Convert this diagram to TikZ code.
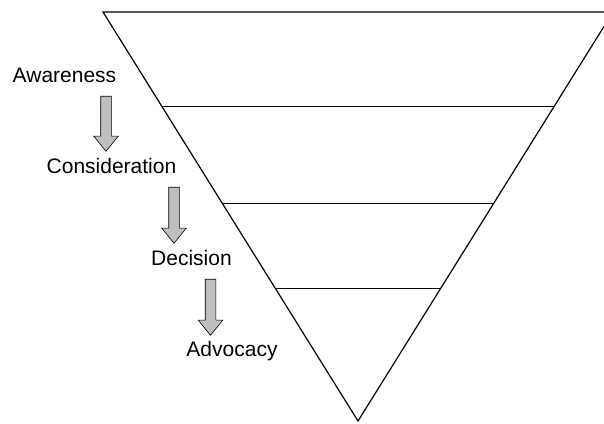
\documentclass[tikz,border=0pt]{standalone}
\usepackage{fontspec}
\setmainfont{Liberation Sans}
\usetikzlibrary{shapes.arrows, calc}

\begin{document}
\begin{tikzpicture}[x=1pt, y=-1pt,
        lbl/.style={anchor=base, font=\fontsize{21}{24}\selectfont, inner sep=0pt},
        dn/.style={single arrow, draw=black, line width=.6pt, fill=black!25,
          shape border rotate=270, inner sep=5pt, minimum height=55pt,
          single arrow head extend=7pt, single arrow tip angle=78}]
      \useasboundingbox (0,0) rectangle (604,423);
      \clip (0,0) rectangle (604,423);

      % funnel
      \coordinate (tl) at (103,12);
      \coordinate (tr) at (613,12);
      \coordinate (bt) at (358,421);
      \draw[line width=1.2pt, line join=miter] (tl) -- (tr) -- (bt) -- cycle;
      \draw[line width=.9pt] ($(tl)!.2298!(bt)$) -- ($(tr)!.2298!(bt)$);
      \draw[line width=.9pt] ($(tl)!.467!(bt)$) -- ($(tr)!.467!(bt)$);
      \draw[line width=.9pt] ($(tl)!.677!(bt)$) -- ($(tr)!.677!(bt)$);

      % stages
      \node[lbl] (aw) at (64.5,82) {Awareness};
      \node[lbl] (co) at (111.5,173) {Consideration};
      \node[lbl] (de) at (191.5,265) {Decision};
      \node[lbl] (ad) at (232,356) {Advocacy};

      \node[dn] (a1) at (106,120.5) {};
      \node[dn, minimum height=56pt] (a2) at (174,212) {};
      \node[dn, minimum height=56pt] (a3) at (210.5,304) {};
    \end{tikzpicture}
\end{document}
